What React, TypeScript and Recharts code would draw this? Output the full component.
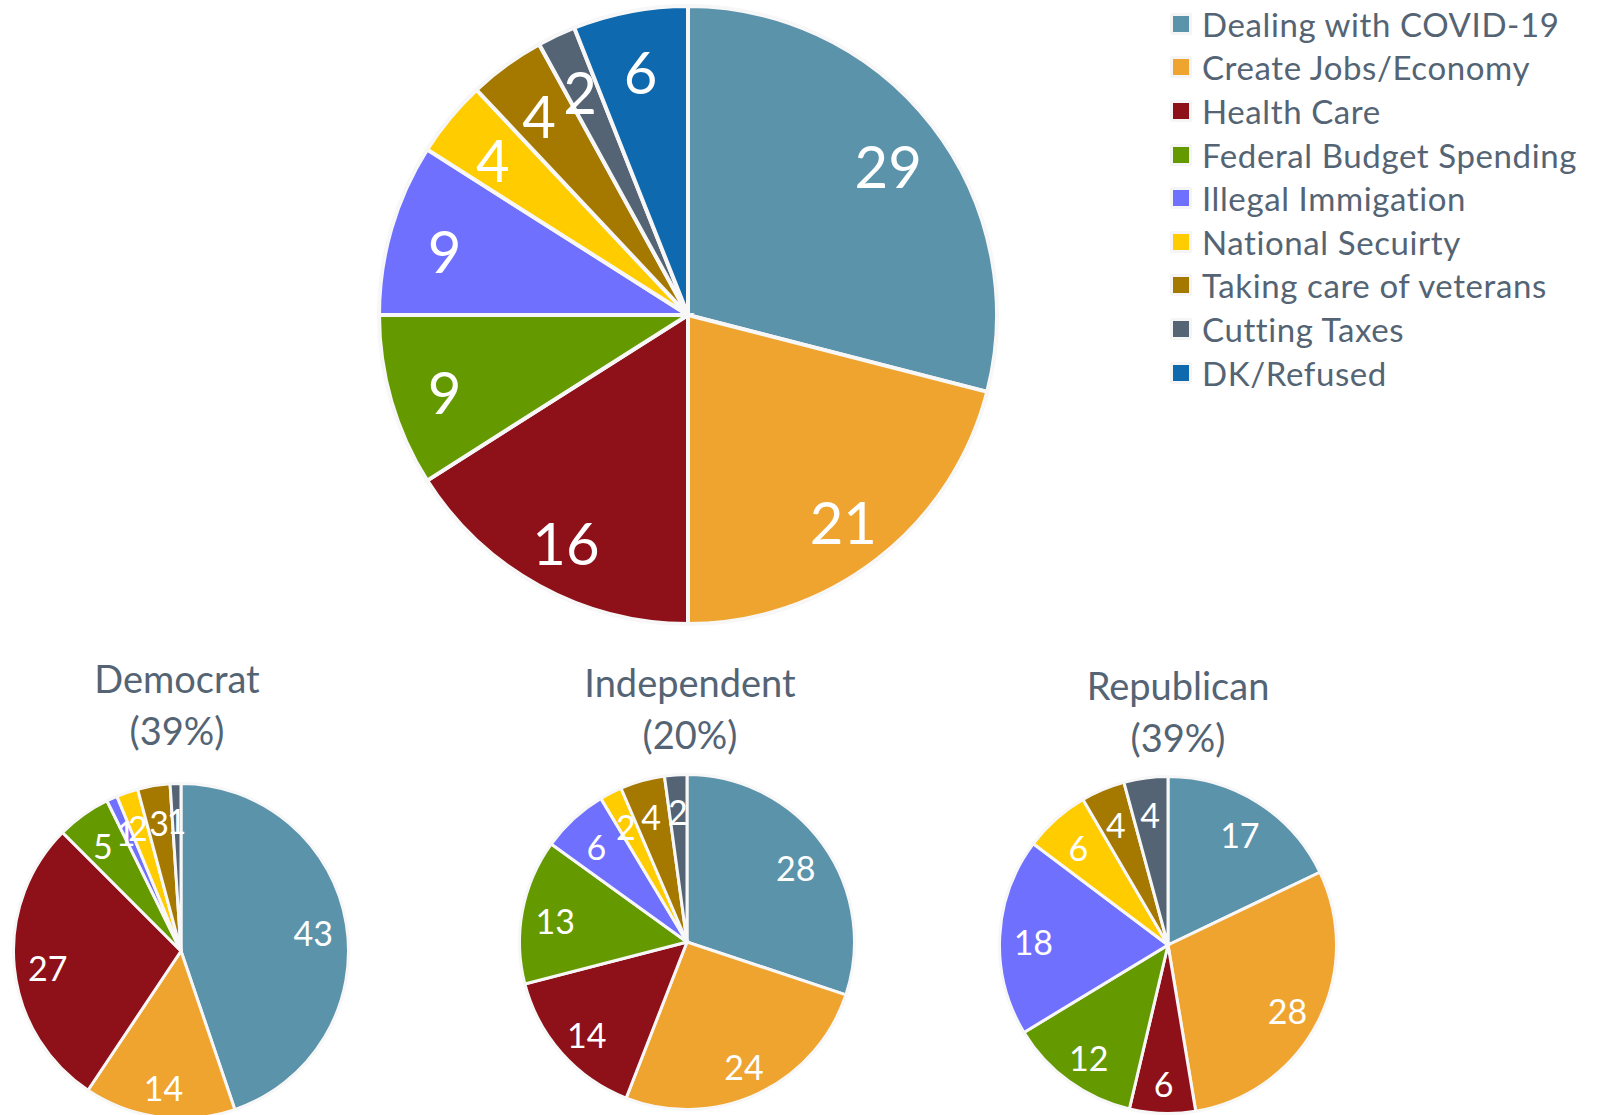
import { Cell, Pie, PieChart } from 'recharts'

const CATEGORIES = [
  'Dealing with COVID-19',
  'Create Jobs/Economy',
  'Health Care',
  'Federal Budget Spending',
  'Illegal Immigation',
  'National Secuirty',
  'Taking care of veterans',
  'Cutting Taxes',
  'DK/Refused',
]

const COLORS = [
  '#5b93ab',
  '#eea42f',
  '#8e1019',
  '#659900',
  '#7070ff',
  '#ffcc00',
  '#a57800',
  '#546474',
  '#0e69af',
]

const TOTAL = [29, 21, 16, 9, 9, 4, 4, 2, 6]
const DEMOCRAT = [43, 14, 27, 5, 1, 2, 3, 1]
const INDEPENDENT = [28, 24, 14, 13, 6, 2, 4, 2]
const REPUBLICAN = [17, 28, 6, 12, 18, 6, 4, 4]

const TEXT = '#546474'
const FONT = 'Lato, "Open Sans", sans-serif'
const RAD = Math.PI / 180

const toData = (values: number[]) =>
  values.map((value, i) => ({ name: CATEGORIES[i], value }))

function makeLabel(fontSize: number, frac: number) {
  return (props: any) => {
    const { cx, cy, midAngle, outerRadius, value } = props
    const r = outerRadius * frac
    const x = cx + r * Math.cos(-midAngle * RAD)
    const y = cy + r * Math.sin(-midAngle * RAD) + fontSize * 0.1
    return (
      <text
        x={x}
        y={y}
        fill="#ffffff"
        fontSize={fontSize}
        fontFamily={FONT}
        textAnchor="middle"
        dominantBaseline="central"
      >
        {value}
      </text>
    )
  }
}

const GROUPS = [
  { title: 'Democrat', share: '(39%)', values: DEMOCRAT, cx: 181, cy: 951, r: 169, tx: 177, ty: 693 },
  { title: 'Independent', share: '(20%)', values: INDEPENDENT, cx: 687, cy: 942, r: 169, tx: 690, ty: 697 },
  { title: 'Republican', share: '(39%)', values: REPUBLICAN, cx: 1168, cy: 945, r: 170, tx: 1178, ty: 700 },
]

export default function App() {
  return (
    <div
      style={{
        position: 'absolute',
        left: 0,
        top: 0,
        width: 1610,
        height: 1115,
        background: '#ffffff',
        overflow: 'hidden',
        fontFamily: FONT,
      }}
    >
      <PieChart width={1610} height={1115} margin={{ top: 0, right: 0, bottom: 0, left: 0 }}>
        <Pie
          data={toData(TOTAL)}
          dataKey="value"
          nameKey="name"
          cx={688}
          cy={315}
          outerRadius={309}
          startAngle={90}
          endAngle={-270}
          stroke="#f7f7f7"
          strokeWidth={4}
          label={makeLabel(58, 0.82)}
          labelLine={false}
          isAnimationActive={false}
        >
          {TOTAL.map((_, i) => (
            <Cell key={i} fill={COLORS[i]} />
          ))}
        </Pie>

        {GROUPS.map((g) => (
          <Pie
            key={g.title}
            data={toData(g.values)}
            dataKey="value"
            nameKey="name"
            cx={g.cx}
            cy={g.cy}
            outerRadius={g.r - 1.5}
            startAngle={90}
            endAngle={-270}
            stroke="#f7f7f7"
            strokeWidth={3}
            label={makeLabel(34, 0.8)}
            labelLine={false}
            isAnimationActive={false}
          >
            {g.values.map((_, i) => (
              <Cell key={i} fill={COLORS[i]} />
            ))}
          </Pie>
        ))}
      </PieChart>

      {GROUPS.map((g) => (
        <svg
          key={g.title}
          width={400}
          height={130}
          style={{ position: 'absolute', left: g.tx - 200, top: g.ty - 50 }}
        >
          <text x={200} y={50} textAnchor="middle" fill={TEXT} fontSize={38} fontFamily={FONT}>
            {g.title}
          </text>
          <text x={200} y={102} textAnchor="middle" fill={TEXT} fontSize={38} fontFamily={FONT}>
            {g.share}
          </text>
        </svg>
      ))}

      <div style={{ position: 'absolute', left: 1170, top: 2 }}>
        {CATEGORIES.map((name, i) => (
          <div
            key={name}
            style={{
              display: 'flex',
              alignItems: 'center',
              height: 43.6,
              fontSize: 33,
              letterSpacing: 0.6,
              color: TEXT,
              whiteSpace: 'nowrap',
            }}
          >
            <span
              style={{
                width: 16,
                height: 16,
                background: COLORS[i],
                border: '3px solid #f5f5f5',
                borderRadius: 2,
                marginRight: 10,
                flexShrink: 0,
              }}
            />
            <span>{name}</span>
          </div>
        ))}
      </div>
    </div>
  )
}
